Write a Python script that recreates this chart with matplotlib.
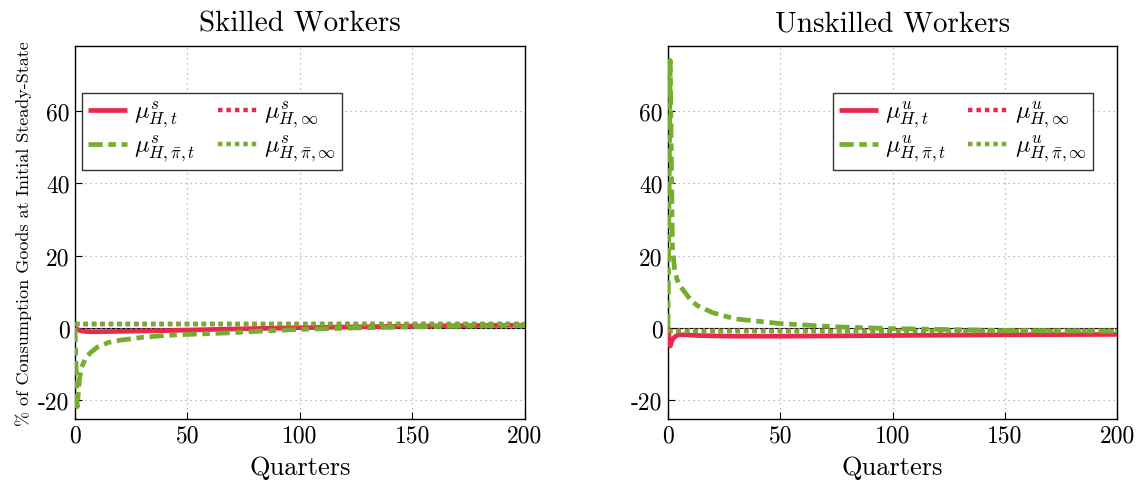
import matplotlib
matplotlib.use("Agg")
import matplotlib.pyplot as plt
import numpy as np

plt.rcParams['font.family'] = 'serif'
plt.rcParams['font.serif'] = ['cmr10']
plt.rcParams['mathtext.fontset'] = 'cm'
plt.rcParams['axes.formatter.use_mathtext'] = False
plt.rcParams['axes.unicode_minus'] = False

# ---- data ----
quarters_s = [0, 1, 2, 3, 5, 7, 10, 15, 20, 30, 40, 50, 67, 82, 100, 125, 150, 175, 200]
skilled_mu_t = [0, -0.4, -0.7, -0.85, -1.0, -1.05, -1.05, -1.0, -0.95, -0.85, -0.75, -0.6, -0.35, -0.15, 0.05, 0.3, 0.5, 0.65, 0.75]
skilled_mu_pi_t = [0, -21.8, -14.0, -10.8, -8.0, -6.8, -5.3, -4.0, -3.4, -2.6, -2.1, -1.8, -1.4, -0.9, -0.4, 0.0, 0.3, 0.5, 0.65]
skilled_mu_inf = 1.2
skilled_mu_pi_inf = 1.2

quarters_u = [0, 1, 2, 3, 4, 5, 7, 10, 13, 20, 30, 50, 75, 100, 150, 200]
unskilled_mu_t = [0, -5.0, -3.2, -2.5, -2.1, -1.9, -1.9, -2.0, -2.1, -2.2, -2.3, -2.3, -2.2, -2.1, -1.9, -1.8]
unskilled_mu_pi_t = [0, 74.0, 22.0, 16.0, 13.5, 12.0, 10.3, 7.8, 6.2, 4.2, 2.5, 1.2, 0.3, -0.2, -0.7, -0.9]
unskilled_mu_inf = -0.9
unskilled_mu_pi_inf = -0.9

xticks = [0, 50, 100, 150, 200]
yticks = [-20, 0, 20, 40, 60]

RED = '#E8294F'
GREEN = '#76AD2F'

fig = plt.figure(figsize=(11.43, 4.89), dpi=100)
ax1 = fig.add_axes([0.0656, 0.1411, 0.3937, 0.7628])
ax2 = fig.add_axes([0.5844, 0.1411, 0.3929, 0.7628])

dashdot = (0, (3, 1.2, 1.6, 1.2))
dotted = (0, (1, 0.9))


def panel(ax, x, mu_t, mu_pi_t, mu_inf, mu_pi_inf, sup, title, legloc):
    ax.axhline(0, color='black', lw=0.8, zorder=1)
    h1, = ax.plot(x, mu_t, color=RED, lw=3.4, solid_capstyle='butt', zorder=3)
    h3, = ax.plot([0, 200], [mu_inf, mu_inf], color=RED, lw=3.2, ls=dotted, zorder=2)
    h4, = ax.plot([0, 200], [mu_pi_inf, mu_pi_inf], color=GREEN, lw=3.2, ls=dotted, zorder=4)
    h2, = ax.plot(x, mu_pi_t, color=GREEN, lw=3.4, ls=dashdot, zorder=5)
    ax.set_xlim(0, 200)
    ax.set_ylim(-25.2, 78)
    ax.set_xticks(xticks)
    ax.set_yticks(yticks)
    ax.grid(True, ls=(0, (1, 3)), color='#aaaaaa', lw=0.9)
    ax.tick_params(direction='in', labelsize=17, length=5, top=False, right=False, pad=4)
    ax.set_xlabel('Quarters', fontsize=19, labelpad=6)
    ax.set_title(title, fontsize=21, pad=11)
    for s in ax.spines.values():
        s.set_linewidth(1.0)
    labels = [r'$\mu^{%s}_{H,t}$' % sup, r'$\mu^{%s}_{H,\bar{\pi},t}$' % sup,
              r'$\mu^{%s}_{H,\infty}$' % sup, r'$\mu^{%s}_{H,\bar{\pi},\infty}$' % sup]
    leg = ax.legend([h1, h2, h3, h4], labels, ncol=2, loc='upper left',
                    bbox_to_anchor=legloc, borderaxespad=0, fontsize=17.5, frameon=True,
                    fancybox=False, edgecolor='#333333', framealpha=1, handlelength=1.6,
                    columnspacing=0.9, handletextpad=0.3, borderpad=0.25,
                    labelspacing=0.1)
    leg.get_frame().set_linewidth(1.0)


panel(ax1, quarters_s, skilled_mu_t, skilled_mu_pi_t, skilled_mu_inf, skilled_mu_pi_inf,
      's', 'Skilled Workers', (0.016, 0.874))
panel(ax2, quarters_u, unskilled_mu_t, unskilled_mu_pi_t, unskilled_mu_inf, unskilled_mu_pi_inf,
      'u', 'Unskilled Workers', (0.367, 0.874))

ax1.set_ylabel('% of Consumption Goods at Initial Steady-State', fontsize=13, labelpad=4)

fig.savefig('out.png', dpi=100)
